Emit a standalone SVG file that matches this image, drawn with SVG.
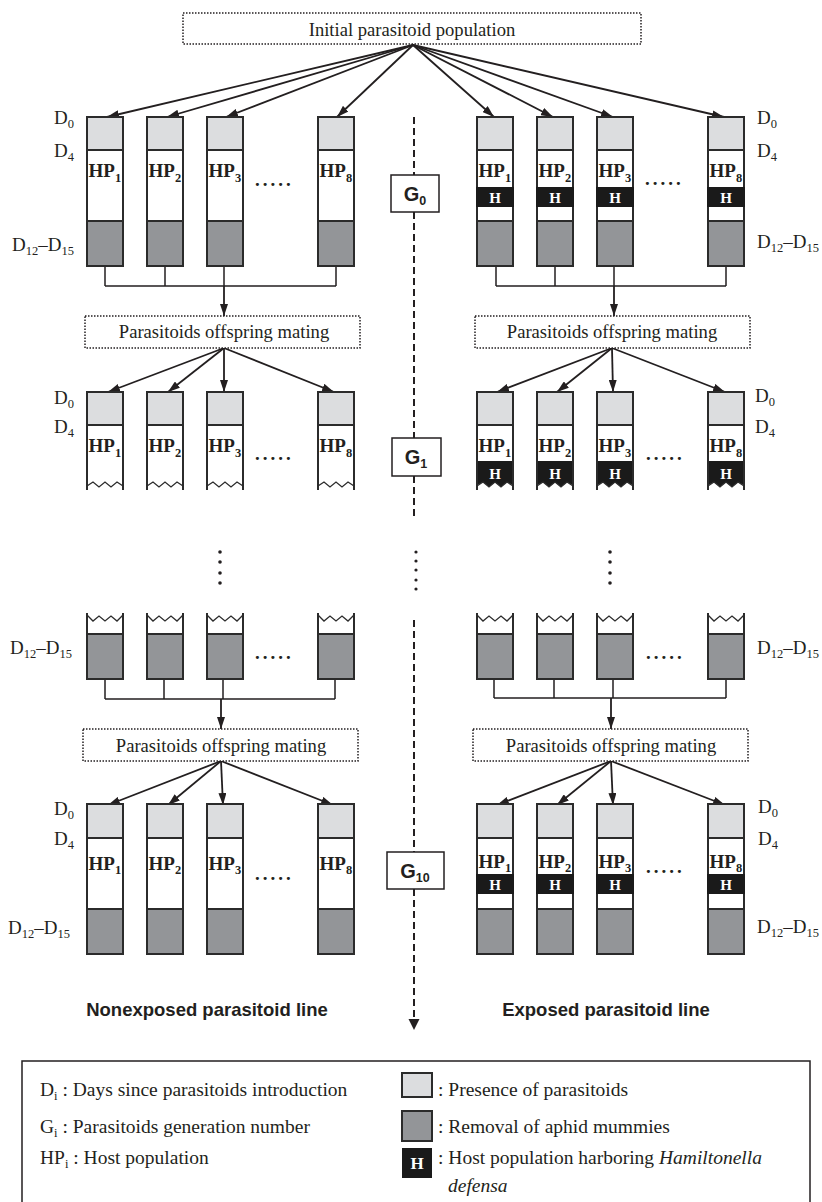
<svg xmlns="http://www.w3.org/2000/svg" width="822" height="1202" viewBox="0 0 822 1202">
<defs>
<style>
.t{font-family:"Liberation Serif","Times New Roman",serif;fill:#231f20;font-size:19px}
.sm{font-size:18.6px}
.sub{font-size:12.5px}
.hp{font-weight:bold;font-size:19px}
.hw{font-family:"Liberation Serif","Times New Roman",serif;font-weight:bold;font-size:15px;fill:#fff;text-anchor:middle}
.dots{font-family:"Liberation Serif","Times New Roman",serif;font-weight:bold;font-size:19px;letter-spacing:3px;fill:#231f20}
.g{font-family:"Liberation Sans",Arial,sans-serif;font-weight:bold;font-size:20px;fill:#231f20;text-anchor:middle}
.gs{font-size:12.5px}
.line{font-family:"Liberation Sans",Arial,sans-serif;font-weight:bold;font-size:18.5px;fill:#231f20;text-anchor:middle}
.light{fill:#dcdddf;stroke:#2b2b2b;stroke-width:2}
.white{fill:#fff;stroke:#2b2b2b;stroke-width:2}
.dark{fill:#939598;stroke:#2b2b2b;stroke-width:2}
.hb{fill:#1a1a1a}
.side{stroke:#2b2b2b;stroke-width:2;fill:none}
.zz{stroke:#2b2b2b;stroke-width:1.3;fill:none}
.conn{stroke:#231f20;stroke-width:1.8;fill:none}
.stem{stroke:#231f20;stroke-width:1.5;fill:none}
.dbox{fill:#fff;stroke:#231f20;stroke-width:1.5;stroke-dasharray:1.5 1.5}
.gbox{fill:#fff;stroke:#231f20;stroke-width:1.5}
.dash{stroke:#231f20;stroke-width:2;stroke-dasharray:7 4;fill:none}
.vdot{fill:#231f20}
.mid{text-anchor:middle}
</style>
<marker id="ah" markerUnits="userSpaceOnUse" viewBox="0 0 12 8" refX="12" refY="4" markerWidth="12" markerHeight="8" orient="auto">
<path d="M0,0 L12,4 L0,8 z" fill="#231f20"/>
</marker>
</defs>
<rect width="822" height="1202" fill="#fff"/>

<!-- connectors -->
<g id="connectors">
<g marker-end="url(#ah)" class="conn">
<line x1="413" y1="45" x2="107" y2="117"/>
<line x1="413" y1="45" x2="167" y2="117"/>
<line x1="413" y1="45" x2="226" y2="117"/>
<line x1="413" y1="45" x2="337" y2="117"/>
<line x1="413" y1="45" x2="494" y2="117"/>
<line x1="413" y1="45" x2="553" y2="117"/>
<line x1="413" y1="45" x2="613" y2="117"/>
<line x1="413" y1="45" x2="724" y2="117"/>
<line x1="224" y1="286" x2="224" y2="316"/>
<line x1="614" y1="286" x2="614" y2="316"/>
<line x1="224" y1="348" x2="108" y2="392"/>
<line x1="224" y1="348" x2="168" y2="392"/>
<line x1="224" y1="348" x2="224" y2="392"/>
<line x1="224" y1="348" x2="334" y2="392"/>
<line x1="612" y1="348" x2="497" y2="392"/>
<line x1="612" y1="348" x2="557" y2="392"/>
<line x1="612" y1="348" x2="613" y2="392"/>
<line x1="612" y1="348" x2="725" y2="392"/>
<line x1="221" y1="699" x2="221" y2="729"/>
<line x1="611" y1="698" x2="611" y2="729"/>
<line x1="221" y1="761" x2="108" y2="805"/>
<line x1="221" y1="761" x2="168" y2="805"/>
<line x1="221" y1="761" x2="223" y2="805"/>
<line x1="221" y1="761" x2="333" y2="805"/>
<line x1="611" y1="761" x2="497" y2="805"/>
<line x1="611" y1="761" x2="557" y2="805"/>
<line x1="611" y1="761" x2="613" y2="805"/>
<line x1="611" y1="761" x2="725" y2="805"/>
</g>
<path class="stem" d="M105,266 V286 M165,266 V286 M224,266 V286 M336,266 V286 M105,286 H336"/>
<path class="stem" d="M496,266 V286 M555,266 V286 M614,266 V286 M726,266 V286 M496,286 H726"/>
<path class="stem" d="M105,679 V699 M164,679 V699 M223,679 V699 M335,679 V699 M105,699 H335"/>
<path class="stem" d="M494,679 V698 M554,679 V698 M613,679 V698 M726,679 V698 M494,698 H726"/>
<path class="dash" d="M414,117 V175 M414,212 V438 M414,476 V517 M414,620 V852"/>
<line class="dash" x1="414" y1="889" x2="414" y2="1022"/>
<path d="M408.5,1019 L419.5,1019 L414,1030 z" fill="#231f20"/>
<g class="vdot">
<circle cx="416" cy="552" r="1.6"/><circle cx="416" cy="561" r="1.6"/><circle cx="416" cy="570" r="1.6"/><circle cx="416" cy="580" r="1.6"/><circle cx="416" cy="589" r="1.6"/>
<circle cx="220" cy="552" r="1.8"/><circle cx="220" cy="562" r="1.8"/><circle cx="220" cy="573" r="1.8"/><circle cx="220" cy="583" r="1.8"/>
<circle cx="610" cy="552" r="1.8"/><circle cx="610" cy="562" r="1.8"/><circle cx="610" cy="573" r="1.8"/><circle cx="610" cy="583" r="1.8"/>
</g>
</g>

<!-- source boxes -->
<g id="initial">
<rect class="dbox" x="183" y="13" width="458" height="31"/>
<text class="t sm mid" x="412" y="36">Initial parasitoid population</text>
</g>
<g id="mating-g1-left"><rect class="dbox" x="85" y="316" width="275" height="32"/><text class="t sm mid" x="224" y="338">Parasitoids offspring mating</text></g>
<g id="mating-g1-right"><rect class="dbox" x="475" y="316" width="275" height="32"/><text class="t sm mid" x="612" y="338">Parasitoids offspring mating</text></g>
<g id="mating-g10-left"><rect class="dbox" x="83" y="729" width="275" height="32"/><text class="t sm mid" x="221" y="752">Parasitoids offspring mating</text></g>
<g id="mating-g10-right"><rect class="dbox" x="473" y="729" width="275" height="32"/><text class="t sm mid" x="611" y="752">Parasitoids offspring mating</text></g>

<!-- generation boxes -->
<g id="G0"><rect class="gbox" x="391" y="175" width="48" height="37"/><text class="g" x="415" y="201">G<tspan class="gs" dy="4">0</tspan></text></g>
<g id="G1"><rect class="gbox" x="392" y="438" width="49" height="38"/><text class="g" x="416" y="464">G<tspan class="gs" dy="4">1</tspan></text></g>
<g id="G10"><rect class="gbox" x="387" y="852" width="57" height="37"/><text class="g" x="415" y="878">G<tspan class="gs" dy="4">10</tspan></text></g>

<!-- G0 left tubes -->
<g id="g0-l1"><rect class="light" x="87" y="117" width="36" height="33"/><rect class="white" x="87" y="150" width="36" height="71"/><rect class="dark" x="87" y="221" width="36" height="45"/><text class="t hp" x="88.5" y="177">HP<tspan class="sub" dy="5">1</tspan></text></g>
<g id="g0-l2"><rect class="light" x="147" y="117" width="36" height="33"/><rect class="white" x="147" y="150" width="36" height="71"/><rect class="dark" x="147" y="221" width="36" height="45"/><text class="t hp" x="148.5" y="177">HP<tspan class="sub" dy="5">2</tspan></text></g>
<g id="g0-l3"><rect class="light" x="207" y="117" width="36" height="33"/><rect class="white" x="207" y="150" width="36" height="71"/><rect class="dark" x="207" y="221" width="36" height="45"/><text class="t hp" x="208.5" y="177">HP<tspan class="sub" dy="5">3</tspan></text></g>
<g id="g0-l8"><rect class="light" x="318" y="117" width="36" height="33"/><rect class="white" x="318" y="150" width="36" height="71"/><rect class="dark" x="318" y="221" width="36" height="45"/><text class="t hp" x="319.5" y="177">HP<tspan class="sub" dy="5">8</tspan></text></g>
<g id="g0-l-labels">
<text class="dots" x="255" y="186">.....</text>
<text class="t" x="54" y="124">D<tspan class="sub" dy="4">0</tspan></text>
<text class="t" x="54" y="157">D<tspan class="sub" dy="4">4</tspan></text>
<text class="t" x="12" y="251">D<tspan class="sub" dy="4">12</tspan><tspan dy="-4">–D</tspan><tspan class="sub" dy="4">15</tspan></text>
</g>

<!-- G0 right tubes -->
<g id="g0-r1"><rect class="light" x="477" y="117" width="36" height="33"/><rect class="white" x="477" y="150" width="36" height="71"/><rect class="hb" x="476" y="187" width="38" height="20"/><rect class="dark" x="477" y="221" width="36" height="45"/><text class="t hp" x="478.5" y="177">HP<tspan class="sub" dy="5">1</tspan></text><text class="hw" x="495" y="203">H</text></g>
<g id="g0-r2"><rect class="light" x="537" y="117" width="36" height="33"/><rect class="white" x="537" y="150" width="36" height="71"/><rect class="hb" x="536" y="187" width="38" height="20"/><rect class="dark" x="537" y="221" width="36" height="45"/><text class="t hp" x="538.5" y="177">HP<tspan class="sub" dy="5">2</tspan></text><text class="hw" x="555" y="203">H</text></g>
<g id="g0-r3"><rect class="light" x="597" y="117" width="36" height="33"/><rect class="white" x="597" y="150" width="36" height="71"/><rect class="hb" x="596" y="187" width="38" height="20"/><rect class="dark" x="597" y="221" width="36" height="45"/><text class="t hp" x="598.5" y="177">HP<tspan class="sub" dy="5">3</tspan></text><text class="hw" x="615" y="203">H</text></g>
<g id="g0-r8"><rect class="light" x="708" y="117" width="36" height="33"/><rect class="white" x="708" y="150" width="36" height="71"/><rect class="hb" x="707" y="187" width="38" height="20"/><rect class="dark" x="708" y="221" width="36" height="45"/><text class="t hp" x="709.5" y="177">HP<tspan class="sub" dy="5">8</tspan></text><text class="hw" x="726" y="203">H</text></g>
<g id="g0-r-labels">
<text class="dots" x="645" y="185">.....</text>
<text class="t" x="757" y="124">D<tspan class="sub" dy="4">0</tspan></text>
<text class="t" x="757" y="157">D<tspan class="sub" dy="4">4</tspan></text>
<text class="t" x="757" y="248">D<tspan class="sub" dy="4">12</tspan><tspan dy="-4">–D</tspan><tspan class="sub" dy="4">15</tspan></text>
</g>

<!-- G1 left tubes -->
<g id="g1-l1"><rect class="light" x="87" y="392" width="36" height="33"/><path class="side" d="M87,425 V490 M123,425 V490"/><polyline class="zz" points="87,486 93,482 99,487 105,482 111,487 117,482 123,486"/><text class="t hp" x="88.5" y="452">HP<tspan class="sub" dy="5">1</tspan></text></g>
<g id="g1-l2"><rect class="light" x="147" y="392" width="36" height="33"/><path class="side" d="M147,425 V490 M183,425 V490"/><polyline class="zz" points="147,486 153,482 159,487 165,482 171,487 177,482 183,486"/><text class="t hp" x="148.5" y="452">HP<tspan class="sub" dy="5">2</tspan></text></g>
<g id="g1-l3"><rect class="light" x="207" y="392" width="36" height="33"/><path class="side" d="M207,425 V490 M243,425 V490"/><polyline class="zz" points="207,486 213,482 219,487 225,482 231,487 237,482 243,486"/><text class="t hp" x="208.5" y="452">HP<tspan class="sub" dy="5">3</tspan></text></g>
<g id="g1-l8"><rect class="light" x="318" y="392" width="36" height="33"/><path class="side" d="M318,425 V490 M354,425 V490"/><polyline class="zz" points="318,486 324,482 330,487 336,482 342,487 348,482 354,486"/><text class="t hp" x="319.5" y="452">HP<tspan class="sub" dy="5">8</tspan></text></g>
<g id="g1-l-labels">
<text class="dots" x="255" y="460">.....</text>
<text class="t" x="54" y="404">D<tspan class="sub" dy="4">0</tspan></text>
<text class="t" x="54" y="433">D<tspan class="sub" dy="4">4</tspan></text>
</g>

<!-- G1 right tubes -->
<g id="g1-r1"><rect class="light" x="477" y="392" width="36" height="33"/><polygon class="hb" points="476,461 514,461 514,486 507,482 501,487 495,482 489,487 483,482 476,486"/><path class="side" d="M477,425 V490 M513,425 V490"/><polyline class="zz" points="477,486 483,482 489,487 495,482 501,487 507,482 513,486"/><text class="t hp" x="478.5" y="452">HP<tspan class="sub" dy="5">1</tspan></text><text class="hw" x="495" y="479">H</text></g>
<g id="g1-r2"><rect class="light" x="537" y="392" width="36" height="33"/><polygon class="hb" points="536,461 574,461 574,486 567,482 561,487 555,482 549,487 543,482 536,486"/><path class="side" d="M537,425 V490 M573,425 V490"/><polyline class="zz" points="537,486 543,482 549,487 555,482 561,487 567,482 573,486"/><text class="t hp" x="538.5" y="452">HP<tspan class="sub" dy="5">2</tspan></text><text class="hw" x="555" y="479">H</text></g>
<g id="g1-r3"><rect class="light" x="597" y="392" width="36" height="33"/><polygon class="hb" points="596,461 634,461 634,486 627,482 621,487 615,482 609,487 603,482 596,486"/><path class="side" d="M597,425 V490 M633,425 V490"/><polyline class="zz" points="597,486 603,482 609,487 615,482 621,487 627,482 633,486"/><text class="t hp" x="598.5" y="452">HP<tspan class="sub" dy="5">3</tspan></text><text class="hw" x="615" y="479">H</text></g>
<g id="g1-r8"><rect class="light" x="708" y="392" width="36" height="33"/><polygon class="hb" points="707,461 745,461 745,486 738,482 732,487 726,482 720,487 714,482 707,486"/><path class="side" d="M708,425 V490 M744,425 V490"/><polyline class="zz" points="708,486 714,482 720,487 726,482 732,487 738,482 744,486"/><text class="t hp" x="709.5" y="452">HP<tspan class="sub" dy="5">8</tspan></text><text class="hw" x="726" y="479">H</text></g>
<g id="g1-r-labels">
<text class="dots" x="646" y="460">.....</text>
<text class="t" x="755" y="402">D<tspan class="sub" dy="4">0</tspan></text>
<text class="t" x="755" y="433">D<tspan class="sub" dy="4">4</tspan></text>
</g>

<!-- G9 (end) left tubes -->
<g id="g9-l1"><path class="side" d="M87,613 V634 M123,613 V634"/><polyline class="zz" points="87,615 93,621 99,616 105,621 111,616 117,621 123,615"/><rect class="dark" x="87" y="634" width="36" height="45"/></g>
<g id="g9-l2"><path class="side" d="M147,613 V634 M183,613 V634"/><polyline class="zz" points="147,615 153,621 159,616 165,621 171,616 177,621 183,615"/><rect class="dark" x="147" y="634" width="36" height="45"/></g>
<g id="g9-l3"><path class="side" d="M207,613 V634 M243,613 V634"/><polyline class="zz" points="207,615 213,621 219,616 225,621 231,616 237,621 243,615"/><rect class="dark" x="207" y="634" width="36" height="45"/></g>
<g id="g9-l8"><path class="side" d="M318,613 V634 M354,613 V634"/><polyline class="zz" points="318,615 324,621 330,616 336,621 342,616 348,621 354,615"/><rect class="dark" x="318" y="634" width="36" height="45"/></g>
<g id="g9-l-labels">
<text class="dots" x="255" y="659">.....</text>
<text class="t" x="10" y="654">D<tspan class="sub" dy="4">12</tspan><tspan dy="-4">–D</tspan><tspan class="sub" dy="4">15</tspan></text>
</g>

<!-- G9 right tubes -->
<g id="g9-r1"><path class="side" d="M477,613 V634 M513,613 V634"/><polyline class="zz" points="477,615 483,621 489,616 495,621 501,616 507,621 513,615"/><rect class="dark" x="477" y="634" width="36" height="45"/></g>
<g id="g9-r2"><path class="side" d="M537,613 V634 M573,613 V634"/><polyline class="zz" points="537,615 543,621 549,616 555,621 561,616 567,621 573,615"/><rect class="dark" x="537" y="634" width="36" height="45"/></g>
<g id="g9-r3"><path class="side" d="M597,613 V634 M633,613 V634"/><polyline class="zz" points="597,615 603,621 609,616 615,621 621,616 627,621 633,615"/><rect class="dark" x="597" y="634" width="36" height="45"/></g>
<g id="g9-r8"><path class="side" d="M708,613 V634 M744,613 V634"/><polyline class="zz" points="708,615 714,621 720,616 726,621 732,616 738,621 744,615"/><rect class="dark" x="708" y="634" width="36" height="45"/></g>
<g id="g9-r-labels">
<text class="dots" x="646" y="659">.....</text>
<text class="t" x="757" y="654">D<tspan class="sub" dy="4">12</tspan><tspan dy="-4">–D</tspan><tspan class="sub" dy="4">15</tspan></text>
</g>

<!-- G10 left tubes -->
<g id="g10-l1"><rect class="light" x="87" y="804" width="36" height="34"/><rect class="white" x="87" y="838" width="36" height="71"/><rect class="dark" x="87" y="909" width="36" height="45"/><text class="t hp" x="88.5" y="870">HP<tspan class="sub" dy="4">1</tspan></text></g>
<g id="g10-l2"><rect class="light" x="147" y="804" width="36" height="34"/><rect class="white" x="147" y="838" width="36" height="71"/><rect class="dark" x="147" y="909" width="36" height="45"/><text class="t hp" x="148.5" y="870">HP<tspan class="sub" dy="4">2</tspan></text></g>
<g id="g10-l3"><rect class="light" x="207" y="804" width="36" height="34"/><rect class="white" x="207" y="838" width="36" height="71"/><rect class="dark" x="207" y="909" width="36" height="45"/><text class="t hp" x="208.5" y="870">HP<tspan class="sub" dy="4">3</tspan></text></g>
<g id="g10-l8"><rect class="light" x="318" y="804" width="36" height="34"/><rect class="white" x="318" y="838" width="36" height="71"/><rect class="dark" x="318" y="909" width="36" height="45"/><text class="t hp" x="319.5" y="870">HP<tspan class="sub" dy="4">8</tspan></text></g>
<g id="g10-l-labels">
<text class="dots" x="255" y="880">.....</text>
<text class="t" x="54" y="815">D<tspan class="sub" dy="4">0</tspan></text>
<text class="t" x="54" y="845">D<tspan class="sub" dy="4">4</tspan></text>
<text class="t" x="8" y="934">D<tspan class="sub" dy="4">12</tspan><tspan dy="-4">–D</tspan><tspan class="sub" dy="4">15</tspan></text>
</g>

<!-- G10 right tubes -->
<g id="g10-r1"><rect class="light" x="477" y="804" width="36" height="34"/><rect class="white" x="477" y="838" width="36" height="71"/><rect class="hb" x="476" y="874" width="38" height="20"/><rect class="dark" x="477" y="909" width="36" height="45"/><text class="t hp" x="478.5" y="868">HP<tspan class="sub" dy="4">1</tspan></text><text class="hw" x="495" y="890">H</text></g>
<g id="g10-r2"><rect class="light" x="537" y="804" width="36" height="34"/><rect class="white" x="537" y="838" width="36" height="71"/><rect class="hb" x="536" y="874" width="38" height="20"/><rect class="dark" x="537" y="909" width="36" height="45"/><text class="t hp" x="538.5" y="868">HP<tspan class="sub" dy="4">2</tspan></text><text class="hw" x="555" y="890">H</text></g>
<g id="g10-r3"><rect class="light" x="597" y="804" width="36" height="34"/><rect class="white" x="597" y="838" width="36" height="71"/><rect class="hb" x="596" y="874" width="38" height="20"/><rect class="dark" x="597" y="909" width="36" height="45"/><text class="t hp" x="598.5" y="868">HP<tspan class="sub" dy="4">3</tspan></text><text class="hw" x="615" y="890">H</text></g>
<g id="g10-r8"><rect class="light" x="708" y="804" width="36" height="34"/><rect class="white" x="708" y="838" width="36" height="71"/><rect class="hb" x="707" y="874" width="38" height="20"/><rect class="dark" x="708" y="909" width="36" height="45"/><text class="t hp" x="709.5" y="868">HP<tspan class="sub" dy="4">8</tspan></text><text class="hw" x="726" y="890">H</text></g>
<g id="g10-r-labels">
<text class="dots" x="646" y="873">.....</text>
<text class="t" x="758" y="813">D<tspan class="sub" dy="4">0</tspan></text>
<text class="t" x="758" y="845">D<tspan class="sub" dy="4">4</tspan></text>
<text class="t" x="757" y="933">D<tspan class="sub" dy="4">12</tspan><tspan dy="-4">–D</tspan><tspan class="sub" dy="4">15</tspan></text>
</g>

<g id="line-titles">
<text class="line" x="207" y="1016">Nonexposed parasitoid line</text>
<text class="line" x="606" y="1016">Exposed parasitoid line</text>
</g>

<!-- legend -->
<g id="legend">
<rect x="22" y="1061" width="788" height="150" fill="none" stroke="#231f20" stroke-width="1.5"/>
<text class="t" x="40" y="1096" style="font-size:19.5px">D<tspan class="sub" dy="4">i</tspan><tspan dy="-4"> : Days since parasitoids introduction</tspan></text>
<text class="t" x="40" y="1133" style="font-size:19.5px">G<tspan class="sub" dy="4">i</tspan><tspan dy="-4"> : Parasitoids generation number</tspan></text>
<text class="t" x="40" y="1164" style="font-size:19.5px">HP<tspan class="sub" dy="4">i</tspan><tspan dy="-4"> : Host population</tspan></text>
<rect class="light" x="402" y="1073" width="30" height="24" stroke-width="1.5"/>
<rect class="dark" x="402" y="1111" width="30" height="30" stroke-width="1.5"/>
<rect class="hb" x="402" y="1148" width="30" height="30"/>
<text class="hw" x="417" y="1169" style="font-size:17px">H</text>
<text class="t" x="438" y="1096" style="font-size:19.5px">: Presence of parasitoids</text>
<text class="t" x="438" y="1133" style="font-size:19.5px">: Removal of aphid mummies</text>
<text class="t" x="438" y="1164" style="font-size:19.5px">: Host population harboring <tspan font-style="italic">Hamiltonella</tspan></text>
<text class="t" x="448" y="1192" style="font-size:19.5px" font-style="italic">defensa</text>
</g>
</svg>
